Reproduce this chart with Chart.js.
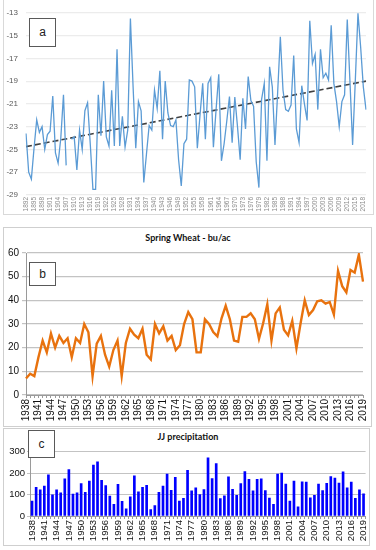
<!DOCTYPE html>
<html>
<head>
<meta charset="utf-8">
<script src="https://cdn.jsdelivr.net/npm/chart.js@4.4.0/dist/chart.umd.min.js"></script>
<style>
  body { margin: 0; background: #fff; width: 376px; height: 550px; position: relative; overflow: hidden; font-family: "Liberation Sans", Arial, sans-serif; }
  .frame { position: absolute; box-sizing: border-box; border: 1px solid #d9d9d9; }
  canvas { position: absolute; left: 0; }
  .tag { position: absolute; box-sizing: border-box; border: 1px solid #595959; background: #fff; font-size: 12px; color: #222; text-align: center; }
  .title { position: absolute; width: 376px; left: 0; text-align: center; font-family: Lato, sans-serif; font-weight: bold; font-size: 9px; color: #111; }
</style>
</head>
<body>
<div class="frame" style="left:3px;top:-1px;width:371px;height:216px;"></div>
<div class="frame" style="left:3px;top:227px;width:369px;height:200px;border-color:#cfcfcf;"></div>
<div class="frame" style="left:3px;top:428px;width:367px;height:118px;border-color:#cfcfcf;"></div>

<canvas id="chartA" width="376" height="214" style="top:0px"></canvas>
<div class="title" style="top:232px;">Spring Wheat - bu/ac</div>
<canvas id="chartB" width="376" height="182" style="top:244px"></canvas>
<div class="title" style="top:431px;">JJ precipitation</div>
<canvas id="chartC" width="376" height="100" style="top:444px"></canvas>

<div class="tag" style="left:29px;top:18px;width:27px;height:29px;line-height:27px;">a</div>
<div class="tag" style="left:29px;top:262px;width:27px;height:24px;line-height:22px;">b</div>
<div class="tag" style="left:28px;top:430px;width:27px;height:28px;line-height:26px;">c</div>

<script>
// panel a: temperature series 1892-2019 (one missing year)
const yearsAStart = 1892;
const tempValues = [
  -23.6, -27.0, -27.6, -24.9, -22.4, -23.5, -23.0, -25.0, -23.7, -23.4,
  -20.3, -25.3, -26.2, -24.0, -20.2, -26.4, null, -24.1, -23.9, -26.8,
  -23.3, -25.0, -21.6, -20.9, -24.5, -28.5, -28.5, -20.2, -23.8, -19.0,
  -23.9, -24.7, -19.8, -24.7, -16.2, -24.7, -22.1, -24.8, -23.3, -13.5,
  -19.5, -24.9, -20.8, -21.6, -27.9, -25.4, -22.9, -23.3, -19.8, -21.4,
  -18.1, -24.1, -19.0, -21.8, -22.9, -23.0, -22.4, -25.9, -28.2, -24.5,
  -24.1, -18.9, -19.0, -19.5, -24.9, -22.0, -19.2, -24.1, -19.2, -18.7,
  -24.8, -21.5, -18.4, -26.0, -24.5, -22.5, -20.35, -24.4, -20.4, -23.0,
  -25.9, -20.5, -23.2, -18.6, -20.7, -21.2, -26.1, -28.35, -20.6, -19.2,
  -26.0, -17.75, -19.5, -24.6, -20.0, -15.1, -19.8, -21.5, -21.65, -21.1,
  -16.75, -23.2, -24.4, -19.4, -21.0, -22.45, -13.7, -17.45, -16.65, -21.5,
  -16.2, -18.7, -18.3, -18.9, -14.1, -19.2, -20.8, -23.0, -20.8, -20.2,
  -13.6, -19.0, -24.6, -19.0, -13.05, -16.0, -19.5, -21.5
];
const trendStart = -24.75;
const trendEnd = -19.0;

// panel b: spring wheat yield, 1938-2019
const yearsBCStart = 1938;
const wheatYield = [
  7, 9, 8, 16, 23, 18, 26, 20, 25, 22,
  24, 16, 24, 22, 30, 26.5, 8, 21.7, 25, 17,
  12, 19, 23, 8, 22, 28, 25.5, 24, 28, 17,
  15, 30, 26, 29, 23, 25, 19, 21, 30, 35,
  32, 18, 18, 32, 30, 26.6, 24.8, 32.4, 37.7, 32,
  23, 22.5, 33, 33, 34.5, 32, 23.7, 30.3, 38.3, 23,
  34.5, 37, 27.6, 25.2, 31.3, 19.7, 30.3, 40, 33.8, 35.9,
  39.6, 40, 38.6, 39.3, 34, 52.4, 46, 43.4, 52.8, 51.7,
  59.3, 47.9
];

// panel c: June-July precipitation, 1938-2019
const jjPrecip = [
  70, 134, 122, 140, 192, 99, 122, 108, 174, 216,
  102, 108, 151, 110, 163, 238, 253, 166, 142, 93,
  55, 148, 69, 34, 90, 187, 113, 134, 143, 30,
  49, 111, 140, 196, 120, 181, 70, 82, 213, 117,
  132, 100, 123, 271, 175, 245, 81, 94, 183, 125,
  96, 151, 207, 171, 117, 171, 174, 119, 84, 55,
  196, 200, 149, 70, 163, 43, 160, 158, 85, 97,
  149, 119, 152, 184, 177, 154, 206, 132, 158, 82,
  122, 104
];

const yearsA = tempValues.map((v, i) => String(yearsAStart + i));
const yearsBC = wheatYield.map((v, i) => String(yearsBCStart + i));
const trendData = tempValues.map((v, i) => i === 0 ? trendStart : (i === tempValues.length - 1 ? trendEnd : null));

const tickFont = 'Liberation Sans, Arial, sans-serif';

function everyThird(labels) {
  return function(value, index) {
    return index % 3 === 0 ? labels[index] : '';
  };
}

Chart.defaults.animation = false;
Chart.defaults.responsive = false;
Chart.defaults.devicePixelRatio = 1;
Chart.defaults.plugins.legend.display = false;
Chart.defaults.plugins.tooltip.enabled = false;

// Chart a
new Chart(document.getElementById('chartA'), {
  type: 'line',
  data: {
    labels: yearsA,
    datasets: [
      {
        data: tempValues,
        borderColor: '#5b9bd5',
        borderWidth: 1.3,
        pointRadius: 0,
        tension: 0,
        spanGaps: false
      },
      {
        data: trendData,
        borderColor: '#404040',
        borderWidth: 1.6,
        borderDash: [6, 3],
        pointRadius: 0,
        spanGaps: true
      }
    ]
  },
  options: {
    layout: { padding: { top: 10, right: 10, left: 0, bottom: 0 } },
    scales: {
      x: {
        offset: false,
        grid: { display: false, drawTicks: false, tickLength: 0 },
        border: { display: false },
        ticks: {
          autoSkip: false, maxRotation: 90, minRotation: 90, padding: 2,
          font: { family: tickFont, size: 6.5 }, color: '#8c8c8c',
          callback: everyThird(yearsA)
        },
        afterFit: function(scale) { scale.height = 19; }
      },
      y: {
        min: -29, max: -13,
        grid: { color: '#ececec', lineWidth: 1.2, drawTicks: false },
        border: { display: false },
        ticks: { stepSize: 2, padding: 8, font: { family: tickFont, size: 8 }, color: '#595959' },
        afterFit: function(scale) { scale.width = 26; }
      }
    }
  }
});

// Chart b
new Chart(document.getElementById('chartB'), {
  type: 'line',
  data: {
    labels: yearsBC,
    datasets: [{
      data: wheatYield,
      borderColor: '#e8720e',
      borderWidth: 2.4,
      pointRadius: 0,
      tension: 0
    }]
  },
  options: {
    layout: { padding: { top: 8, right: 12, left: 0, bottom: 0 } },
    scales: {
      x: {
        offset: false,
        grid: { drawOnChartArea: false, drawTicks: true, tickLength: 3, color: '#9a9a9a' },
        border: { display: true, color: '#9a9a9a' },
        ticks: {
          autoSkip: false, maxRotation: 90, minRotation: 90, padding: 1,
          font: { family: tickFont, size: 10 }, color: '#111',
          callback: everyThird(yearsBC)
        },
        afterFit: function(scale) { scale.height = 31; }
      },
      y: {
        min: 0, max: 60,
        grid: { color: '#c3c3c3', lineWidth: 1.2, tickLength: 4 },
        border: { display: true, color: '#9a9a9a' },
        ticks: { stepSize: 10, padding: 3, font: { family: tickFont, size: 10 }, color: '#111' },
        afterFit: function(scale) { scale.width = 26; }
      }
    }
  }
});

// Chart c
new Chart(document.getElementById('chartC'), {
  type: 'bar',
  data: {
    labels: yearsBC,
    datasets: [{
      data: jjPrecip,
      backgroundColor: '#0000ff',
      barThickness: 2
    }]
  },
  options: {
    layout: { padding: { top: 6, right: 10, left: 0, bottom: 0 } },
    scales: {
      x: {
        grid: { drawOnChartArea: false, drawTicks: true, tickLength: 3, color: '#9a9a9a', offset: true },
        border: { display: true, color: '#9a9a9a' },
        ticks: {
          autoSkip: false, maxRotation: 90, minRotation: 90, padding: 1,
          font: { family: tickFont, size: 9.5 }, color: '#111',
          callback: everyThird(yearsBC)
        },
        afterFit: function(scale) { scale.height = 28; }
      },
      y: {
        min: 0, max: 300,
        grid: { color: '#c3c3c3', lineWidth: 1, tickLength: 3 },
        border: { display: true, color: '#9a9a9a' },
        ticks: { stepSize: 50, padding: 2, font: { family: tickFont, size: 9.5 }, color: '#111' },
        afterFit: function(scale) { scale.width = 30; }
      }
    }
  }
});
</script>
</body>
</html>
